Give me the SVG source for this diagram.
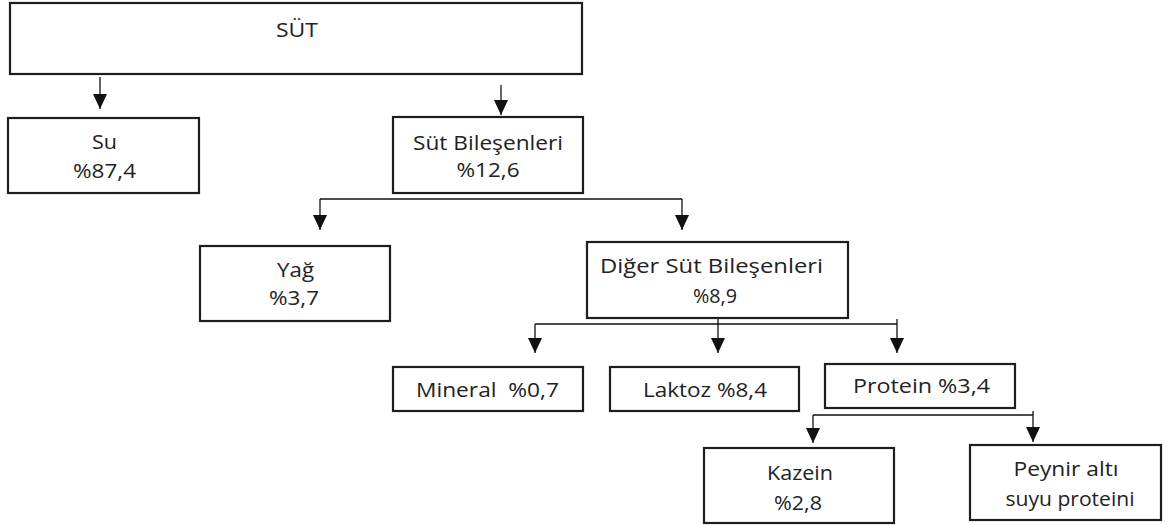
<svg xmlns="http://www.w3.org/2000/svg" width="1170" height="525" viewBox="0 0 1170 525">
<style>
.box{fill:#fff;stroke:#1e1e1e;stroke-width:2.2}
.t{font-family:"Open Sans","Noto Sans","Liberation Sans",sans-serif;font-size:19.5px;fill:#222;text-anchor:middle}
.c{fill:none;stroke:#111;stroke-width:1.3}
</style>
<defs>
<marker id="ah" markerUnits="userSpaceOnUse" markerWidth="16" markerHeight="16" refX="15" refY="7" orient="auto">
<path d="M0,0 L15,7 L0,14 z" fill="#111"/>
</marker>
</defs>
<rect width="1170" height="525" fill="#fff"/>
<g id="connectors">
<line class="c" x1="100" y1="77" x2="100" y2="109" marker-end="url(#ah)"/>
<line class="c" x1="501" y1="85" x2="501" y2="115" marker-end="url(#ah)"/>
<polyline class="c" points="320,199 682,199"/>
<line class="c" x1="320" y1="199" x2="320" y2="230" marker-end="url(#ah)"/>
<line class="c" x1="682" y1="199" x2="682" y2="230" marker-end="url(#ah)"/>
<polyline class="c" points="535,324 897,324"/>
<line class="c" x1="718" y1="318" x2="718" y2="353" marker-end="url(#ah)"/>
<line class="c" x1="535" y1="324" x2="535" y2="353" marker-end="url(#ah)"/>
<line class="c" x1="897" y1="319" x2="897" y2="353" marker-end="url(#ah)"/>
<polyline class="c" points="813,415 1033,415"/>
<line class="c" x1="813" y1="415" x2="813" y2="443" marker-end="url(#ah)"/>
<line class="c" x1="1033" y1="411" x2="1033" y2="442" marker-end="url(#ah)"/>
</g>
<g id="sut">
<rect class="box" x="10" y="3" width="572" height="71"/>
<text class="t" x="297" y="37" textLength="42" lengthAdjust="spacingAndGlyphs">SÜT</text>
</g>
<g id="su">
<rect class="box" x="8" y="118" width="191" height="75"/>
<text class="t" x="104.5" y="149" textLength="25" lengthAdjust="spacingAndGlyphs">Su</text>
<text class="t" x="104.5" y="178" textLength="63" lengthAdjust="spacingAndGlyphs">%87,4</text>
</g>
<g id="sut-bilesenleri">
<rect class="box" x="393" y="117" width="190" height="76"/>
<text class="t" x="488" y="150" textLength="150" lengthAdjust="spacingAndGlyphs">Süt Bileşenleri</text>
<text class="t" x="488" y="177" textLength="63" lengthAdjust="spacingAndGlyphs">%12,6</text>
</g>
<g id="yag">
<rect class="box" x="200" y="246" width="190" height="75"/>
<text class="t" x="295.5" y="277" textLength="37" lengthAdjust="spacingAndGlyphs">Yağ</text>
<text class="t" x="294" y="305" textLength="50" lengthAdjust="spacingAndGlyphs">%3,7</text>
</g>
<g id="diger">
<rect class="box" x="587" y="242" width="261" height="76"/>
<text class="t" x="711.5" y="273" textLength="223" lengthAdjust="spacingAndGlyphs">Diğer Süt Bileşenleri</text>
<text class="t" x="715" y="303" textLength="44" lengthAdjust="spacingAndGlyphs">%8,9</text>
</g>
<g id="mineral">
<rect class="box" x="393" y="367" width="190" height="44"/>
<text class="t" x="487.5" y="397" textLength="143" lengthAdjust="spacingAndGlyphs" xml:space="preserve">Mineral  %0,7</text>
</g>
<g id="laktoz">
<rect class="box" x="610" y="367" width="189" height="44"/>
<text class="t" x="705" y="397" textLength="124" lengthAdjust="spacingAndGlyphs">Laktoz %8,4</text>
</g>
<g id="protein">
<rect class="box" x="825" y="364" width="190" height="44"/>
<text class="t" x="921.5" y="393" textLength="137" lengthAdjust="spacingAndGlyphs">Protein %3,4</text>
</g>
<g id="kazein">
<rect class="box" x="704" y="448" width="190" height="75"/>
<text class="t" x="800" y="480" textLength="66" lengthAdjust="spacingAndGlyphs">Kazein</text>
<text class="t" x="798" y="510" textLength="48" lengthAdjust="spacingAndGlyphs">%2,8</text>
</g>
<g id="peynir">
<rect class="box" x="970" y="445" width="191" height="75"/>
<text class="t" x="1066" y="476" textLength="105" lengthAdjust="spacingAndGlyphs">Peynir altı</text>
<text class="t" x="1070" y="506" textLength="129" lengthAdjust="spacingAndGlyphs">suyu proteini</text>
</g>
</svg>
